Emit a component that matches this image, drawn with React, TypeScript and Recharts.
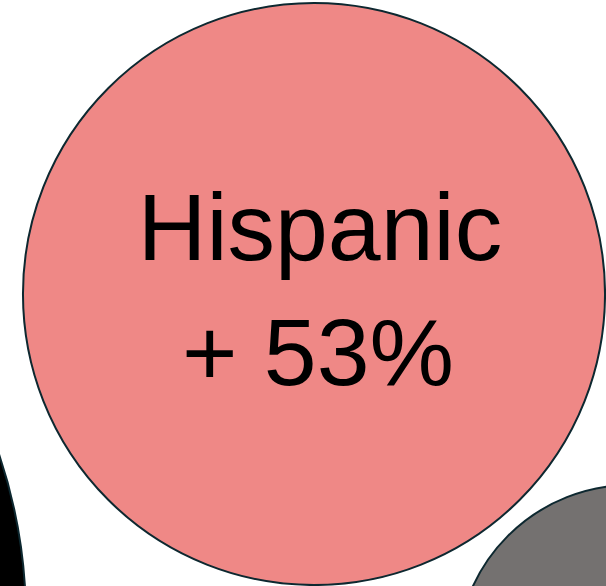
import React from 'react';
import { ScatterChart, Scatter, XAxis, YAxis, ZAxis } from 'recharts';

// bubbles, left to right; size is proportional to bubble area
const groups = ['Black', 'Hispanic', 'Other'];
const changes = ['', '+ 53%', ''];
const xPos = [-496, 314, 631];
const yPos = [-34, 292, -73];
const sizes = [272.5, 84.7, 30.3];
const fills = ['#000000', '#EF8886', '#747170'];
const showLabel = [false, true, false];

const data = groups.map((g, i) => ({
  name: g,
  change: changes[i],
  x: xPos[i],
  y: yPos[i],
  z: sizes[i],
  fill: fills[i],
  label: showLabel[i],
}));

const Bubble = (props: any) => {
  const { cx, cy, width, payload } = props;
  const r = width / 2;
  return (
    <g>
      <circle cx={cx} cy={cy} r={r} fill={payload.fill} stroke="#0D2830" strokeWidth={2} />
      {payload.label && (
        <text
          textAnchor="middle"
          fontFamily="'Liberation Sans', Arial, sans-serif"
          fontSize={95}
          fill="#000"
        >
          <tspan x={cx + 6} y={cy - 34}>{payload.name}</tspan>
          <tspan x={cx + 4} y={cy + 91}>{payload.change}</tspan>
        </text>
      )}
    </g>
  );
};

const App: React.FC = () => {
  return (
    <div style={{ position: 'fixed', top: 0, left: 0, background: '#fff' }}>
      <ScatterChart width={606} height={586} margin={{ top: 0, right: 0, bottom: 0, left: 0 }}>
        <XAxis type="number" dataKey="x" domain={[0, 606]} allowDataOverflow hide />
        <YAxis type="number" dataKey="y" domain={[0, 586]} allowDataOverflow hide />
        <ZAxis type="number" dataKey="z" domain={[0, 300]} range={[0, Math.PI * 300000]} />
        <Scatter data={data} shape={<Bubble />} isAnimationActive={false} />
      </ScatterChart>
    </div>
  );
};

export default App;
